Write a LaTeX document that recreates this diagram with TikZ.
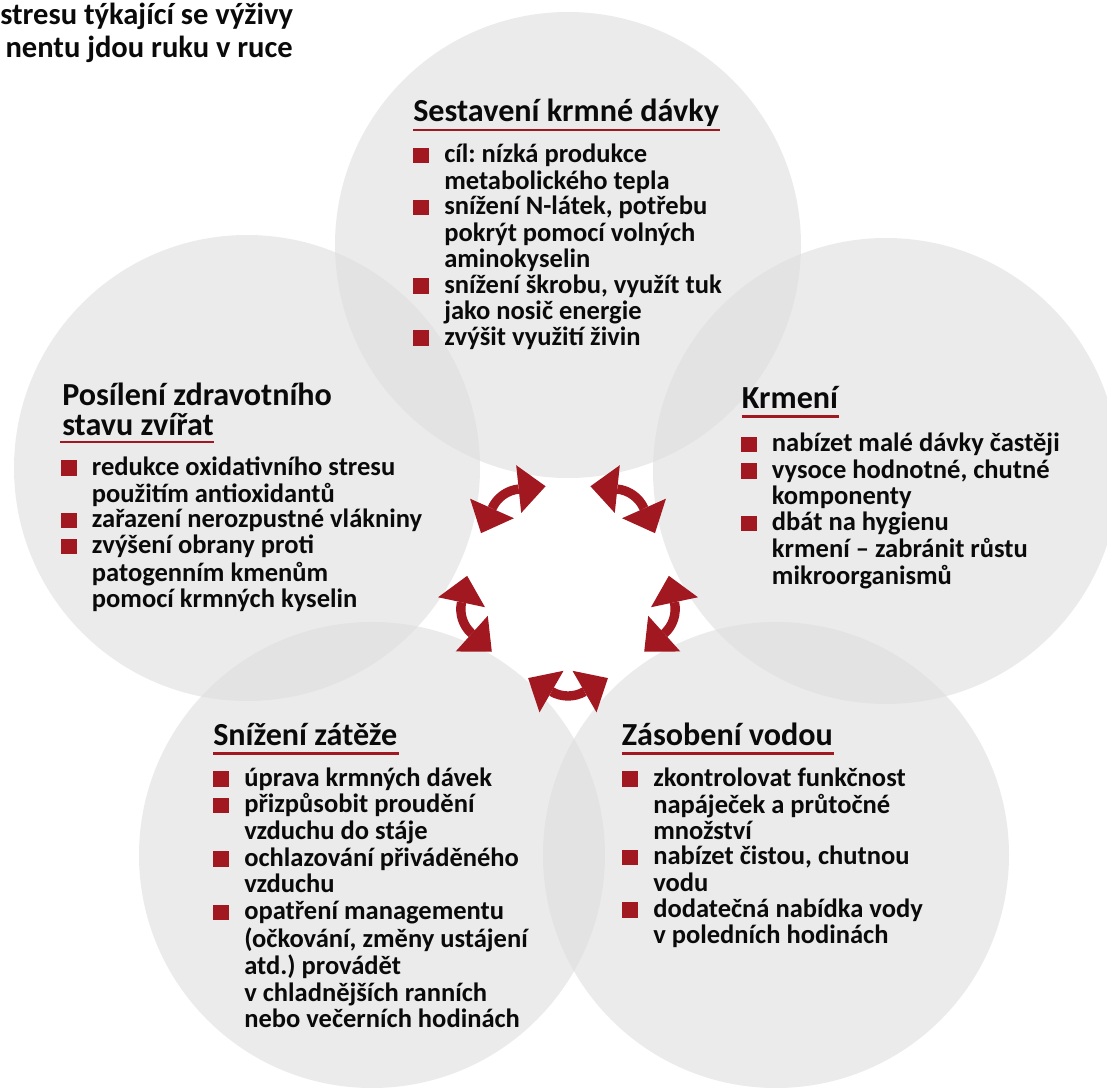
\documentclass[tikz,border=0pt]{standalone}
\usepackage{fontspec}
\setmainfont{Carlito}
\frenchspacing
\usetikzlibrary{calc}
\definecolor{circfill}{RGB}{222,222,222}
\definecolor{accent}{RGB}{162,24,32}
\definecolor{txt}{RGB}{10,10,10}
\newcommand\ttlfont{\fontsize{24.1pt}{21pt}\selectfont\bfseries}
\newlength\uwidth
\tikzset{
  circ/.style={circle, minimum size=349.5pt, inner sep=0pt, fill=circfill, fill opacity=0.6, draw=none},
  item/.style={inner sep=0pt, anchor=base west, text=txt, font=\fontsize{19.9pt}{19.8pt}\selectfont\bfseries},
  ttl/.style={inner sep=0pt, anchor=base west, text=txt, font=\ttlfont},
  mainttl/.style={inner sep=0pt, text=txt, font=\fontsize{22.9pt}{24pt}\selectfont\bfseries},
  uline/.style={draw=accent, line width=1.9pt},
  shaft/.style={draw=accent, line width=7pt},
  head/.style={fill=accent},
  bullet/.style={fill=accent},
}
\newcommand\bitem[4]{%
  \node[item] (#1) at (#2,#3) {\begin{tabular}[t]{@{}l@{}}#4\end{tabular}};
  \fill[bullet] ($(#1.base west)+(-31,0.5)$) rectangle ++(16,-15.5);
}
\newcommand\cyarrow[2]{%
  \coordinate (#2) at ($(O)+(#1:78)$);
  \draw[shaft] ($(#2)+(#1-30:33)$) arc[start angle=#1-30, end angle=#1+30, radius=33];
  \fill[head] ($(#2)+(#1-30:9)$) -- ($(#2)+(#1-30:57)$) -- ($(#2)+(#1-30:33)+(#1-120:27)$) -- cycle;
  \fill[head] ($(#2)+(#1+30:9)$) -- ($(#2)+(#1+30:57)$) -- ($(#2)+(#1+30:33)+(#1+120:27)$) -- cycle;
}
\begin{document}
\settowidth{\uwidth}{\ttlfont stavu zvířat}
\begin{tikzpicture}[x=0.75pt, y=-0.75pt]
\fill[white] (0,0) rectangle (1107,1088);
\useasboundingbox (0,0) rectangle (1107,1088);

% circles
\node[circ] (cTop) at (568,245) {};
\node[circ] (cLeft) at (247,468) {};
\node[circ] (cRight) at (886,471) {};
\node[circ] (cBL) at (372,855) {};
\node[circ] (cBR) at (776,855) {};

% cycle arrows
\coordinate (O) at (568,585);
\cyarrow{-126}{aTL}
\cyarrow{-54}{aTR}
\cyarrow{18}{aR}
\cyarrow{90}{aB}
\cyarrow{162}{aL}

% main title (cut at left edge)
\node[mainttl, anchor=base west] (m1) at (0,25) {stresu týkající se výživy};
\node[mainttl, anchor=base east] (m2) at (293,58) {nentu jdou ruku v ruce};

% top circle
\node[ttl] (tTop) at (413,121.7) {Sestavení krmné dávky};
\draw[uline] ($(tTop.base west)+(0,8.5)$) -- ($(tTop.base east)+(1,8.5)$);
\bitem{top1}{444}{162.7}{cíl: nízká produkce\\metabolického tepla}
\bitem{top2}{444}{214.9}{snížení N-látek, potřebu\\pokrýt pomocí volných\\aminokyselin}
\bitem{top3}{444}{293.2}{snížení škrobu, využít tuk\\jako nosič energie}
\bitem{top4}{444}{345.4}{zvýšit využití živin}

% right circle
\node[ttl] (tRight) at (741.7,408) {Krmení};
\draw[uline] ($(tRight.base west)+(0,8.5)$) -- ($(tRight.base east)+(1,8.5)$);
\bitem{r1}{771.7}{451.7}{nabízet malé dávky častěji}
\bitem{r2}{771.7}{478}{vysoce hodnotné, chutné\\komponenty}
\bitem{r3}{771.7}{530.6}{dbát na hygienu\\krmení – zabránit růstu\\mikroorganismů}

% left circle
\node[ttl] (tLeft) at (62,405) {\begin{tabular}[t]{@{}l@{}}Posílení zdravotního\\stavu zvířat\end{tabular}};
\draw[uline] ($(tLeft.base west)+(-2,37)$) -- ++(\uwidth+2.2pt,0);
\bitem{l1}{91.7}{475}{redukce oxidativního stresu\\použitím antioxidantů}
\bitem{l2}{91.7}{527.6}{zařazení nerozpustné vlákniny}
\bitem{l3}{91.7}{553.9}{zvýšení obrany proti\\patogenním kmenům\\pomocí krmných kyselin}

% bottom-left circle
\node[ttl] (tBL) at (213,745) {Snížení zátěže};
\draw[uline] ($(tBL.base west)+(0,8.5)$) -- ($(tBL.base east)+(1,8.5)$);
\bitem{bl1}{244}{786}{úprava krmných dávek}
\bitem{bl2}{244}{812.7}{přizpůsobit proudění\\vzduchu do stáje}
\bitem{bl3}{244}{866.1}{ochlazování přiváděného\\vzduchu}
\bitem{bl4}{244}{919.5}{opatření managementu\\(očkování, změny ustájení\\atd.) provádět\\v chladnějších ranních\\nebo večerních hodinách}

% bottom-right circle
\node[ttl] (tBR) at (621.7,745) {Zásobení vodou};
\draw[uline] ($(tBR.base west)+(0,8.5)$) -- ($(tBR.base east)+(1,8.5)$);
\bitem{br1}{653}{786}{zkontrolovat funkčnost\\napáječek a průtočné\\množství}
\bitem{br2}{653}{864.6}{nabízet čistou, chutnou\\vodu}
\bitem{br3}{653}{917}{dodatečná nabídka vody\\v poledních hodinách}
\end{tikzpicture}
\end{document}
